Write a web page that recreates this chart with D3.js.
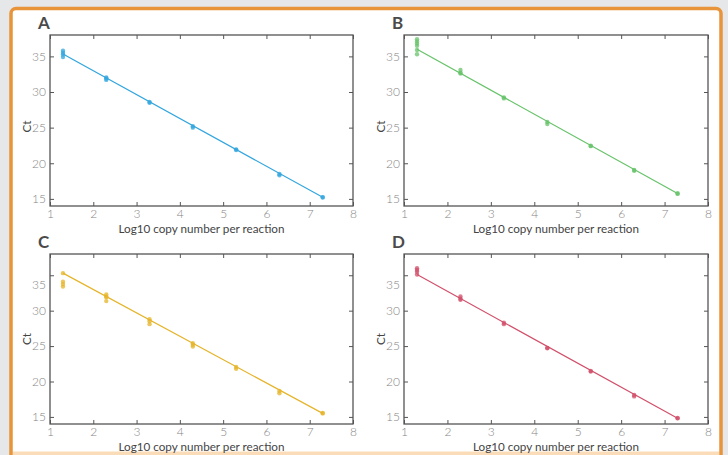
<!DOCTYPE html>
<html><head><meta charset="utf-8">
<script src="https://cdn.jsdelivr.net/npm/d3@7"></script>
<style>
html,body{margin:0;padding:0;background:#e6e7e9;}
svg{display:block;}
</style></head>
<body>
<script>
// ---- data ----
const panelLabels = ["A", "B", "C", "D"];
const panelColors = ["#33a6de", "#67c36a", "#e5b42a", "#d24f6a"];
const xTicks = [1, 2, 3, 4, 5, 6, 7, 8];
const yTicks = [15, 20, 25, 30, 35];
const log10Copies = [1.3, 2.3, 3.3, 4.3, 5.3, 6.3, 7.3];
// replicate Ct values per dilution
const ctA = [[35.8, 35.5, 35.25, 34.9], [32.05, 31.9, 31.7], [28.6, 28.5], [25.2, 25.0], [21.95, 21.85], [18.5, 18.3], [15.25, 15.2]];
const ctB = [[37.4, 37.1, 36.8, 36.5, 35.9, 35.3], [33.1, 32.7, 32.6], [29.25, 29.1], [25.8, 25.5], [22.45, 22.4], [19.05, 18.95], [15.8, 15.7]];
const ctC = [[35.3, 34.1, 33.75, 33.4], [32.3, 32.0, 31.9, 31.35], [28.8, 28.5, 28.1], [25.4, 25.2, 24.95], [22.05, 21.8], [18.65, 18.35], [15.55, 15.5]];
const ctD = [[36.0, 35.75, 35.5, 35.1], [32.0, 31.7, 31.55], [28.3, 28.1], [24.75, 24.7], [21.5, 21.4], [18.1, 17.9], [14.85, 14.8]];
const panelCt = [ctA, ctB, ctC, ctD];
// fitted standard curves: Ct at first and last dilution
const fitStart = [35.33, 36.0, 35.3, 35.1];
const fitEnd = [15.22, 15.75, 15.5, 14.8];
const xTitle = "Log10 copy number per reaction";
const yTitle = "Ct";

const W = 728, H = 455;
const svg = d3.select("body").append("svg").attr("width", W).attr("height", H);

// frame
svg.append("rect").attr("x", 0).attr("y", 0).attr("width", W).attr("height", H).attr("fill", "#e6e7e9");
svg.append("rect").attr("x", 11).attr("y", 8.5).attr("width", 710).attr("height", 460)
  .attr("rx", 5).attr("fill", "#ffffff").attr("stroke", "#e8943a").attr("stroke-width", 3.5);
svg.append("rect").attr("x", 13).attr("y", 451.5).attr("width", 706).attr("height", 4).attr("fill", "#fbdcb8");

const boxes = [
  {x0: 50, x1: 353, y0: 35, y1: 206},
  {x0: 404, x1: 708, y0: 35, y1: 206},
  {x0: 50, x1: 353, y0: 254, y1: 424},
  {x0: 404, x1: 708, y0: 254, y1: 424}
];

const FONT = "Lato, 'Open Sans', sans-serif";

boxes.forEach((b, i) => {
  const color = panelColors[i];
  const x = d3.scaleLinear().domain([1, 8]).range([b.x0, b.x1]);
  const y = d3.scaleLinear().domain([14, 38]).range([b.y1, b.y0]);
  const g = svg.append("g");

  const tickStyle = sel => {
    sel.select(".domain").remove();
    sel.selectAll(".tick line").attr("stroke", "#555").attr("stroke-width", 1);
    sel.selectAll(".tick text").attr("fill", "#858585").attr("font-family", FONT)
      .attr("font-weight", 300).attr("font-size", 12);
  };
  g.append("g").attr("transform", `translate(0,${b.y1})`)
    .call(d3.axisBottom(x).tickValues(xTicks).tickFormat(d3.format("d")).tickSizeInner(-4).tickSizeOuter(0).tickPadding(3.5))
    .call(tickStyle);
  g.append("g").attr("transform", `translate(0,${b.y0})`)
    .call(d3.axisTop(x).tickValues(xTicks).tickSizeInner(-4).tickSizeOuter(0).tickFormat(""))
    .call(tickStyle);
  const ya = g.append("g").attr("transform", `translate(${b.x0},0)`)
    .call(d3.axisLeft(y).tickValues(yTicks).tickFormat(d3.format("d")).tickSizeInner(-4).tickSizeOuter(0).tickPadding(4))
    .call(tickStyle);
  g.append("g").attr("transform", `translate(${b.x1},0)`)
    .call(d3.axisRight(y).tickValues(yTicks).tickSizeInner(-4).tickSizeOuter(0).tickFormat(""))
    .call(tickStyle);
  if (i >= 2) {
    ya.selectAll(".tick").filter(d => d === 35).select("text").attr("y", 9);
  }

  g.append("rect").attr("x", b.x0).attr("y", b.y0).attr("width", b.x1 - b.x0).attr("height", b.y1 - b.y0)
    .attr("fill", "none").attr("stroke", "#555").attr("stroke-width", 1.3);

  g.append("line")
    .attr("x1", x(log10Copies[0])).attr("y1", y(fitStart[i]))
    .attr("x2", x(log10Copies[log10Copies.length - 1])).attr("y2", y(fitEnd[i]))
    .attr("stroke", color).attr("stroke-width", 1.2);

  const pts = [];
  panelCt[i].forEach((arr, k) => arr.forEach(v => pts.push([log10Copies[k], v])));
  g.selectAll("circle.pt").data(pts).join("circle").attr("class", "pt")
    .attr("cx", d => x(d[0])).attr("cy", d => y(d[1])).attr("r", 2.2)
    .attr("fill", color).attr("fill-opacity", 0.75);

  g.append("text").attr("x", (b.x0 + b.x1) / 2).attr("y", b.y1 + 27)
    .attr("text-anchor", "middle").attr("font-family", FONT).attr("font-size", 11.7)
    .attr("fill", "#444").text(xTitle);
  const yc = (b.y0 + b.y1) / 2 + (i < 2 ? 6 : 0);
  g.append("text").attr("transform", `translate(${b.x0 - 19},${yc}) rotate(-90)`)
    .attr("text-anchor", "middle").attr("font-family", FONT).attr("font-size", 11.7)
    .attr("fill", "#444").text(yTitle);
  g.append("text").attr("x", b.x0 - 12).attr("y", b.y0 - 6)
    .attr("font-family", FONT).attr("font-weight", 700).attr("font-size", 17)
    .attr("fill", "#4a4a4a").text(panelLabels[i]);
});
</script>
</body></html>
